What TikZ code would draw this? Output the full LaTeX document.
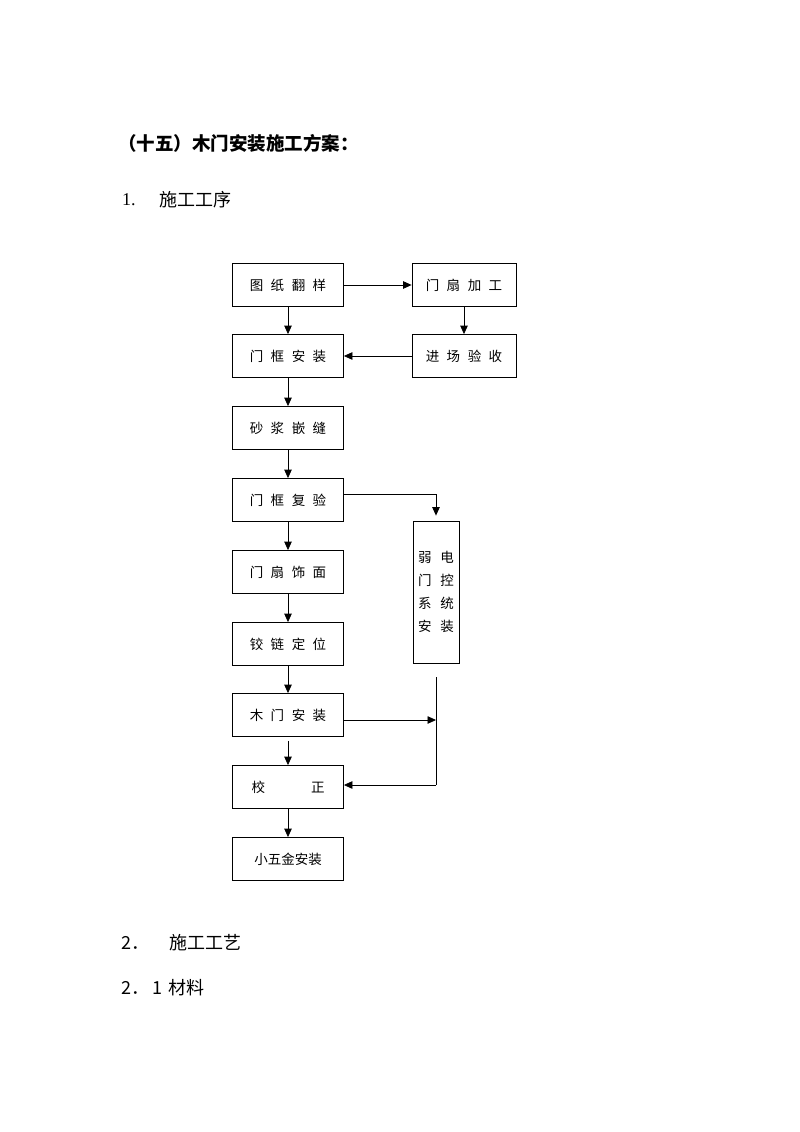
\documentclass[tikz,border=0pt]{standalone}
\usepackage{fontspec}
\newfontfamily\cjk{Noto Sans CJK SC}
\setmainfont{Liberation Serif}
\usetikzlibrary{arrows.meta}
\newcommand\gp{\hspace{7.5pt}}
\tikzset{
  stepbox/.style={draw, line width=0.8pt, minimum width=111pt, minimum height=43pt, inner sep=0pt, font=\cjk\fontsize{13.5}{16}\selectfont},
  conn/.style={line width=0.8pt, -{Triangle[length=8.5pt,width=7.5pt]}},
  plain/.style={line width=0.8pt},
}
\begin{document}
\begin{tikzpicture}[x=1pt,y=-1pt]
\useasboundingbox (0,0) rectangle (800,1132);
% headings
\node[anchor=west, inner sep=0, font=\cjk\bfseries\fontsize{18.5}{20}\selectfont] (title) at (118,143) {（十五）木门安装施工方案：};
\node[anchor=west, inner sep=0, font=\fontsize{18}{20}\selectfont] (h1n) at (122,200) {1.};
\node[anchor=west, inner sep=0, font=\cjk\fontsize{18}{20}\selectfont] (h1) at (159,200) {施工工序};
\node[anchor=west, inner sep=0, font=\cjk\fontsize{18}{20}\selectfont] (h2n) at (121,943) {2．};
\node[anchor=west, inner sep=0, font=\cjk\fontsize{18}{20}\selectfont] (h2) at (169,943) {施工工艺};
\node[anchor=west, inner sep=0, font=\cjk\fontsize{18}{20}\selectfont] (h3) at (121,988) {2．\hspace{3pt}1\hspace{6pt}材料};
% left column
\node[stepbox] (a1) at (288,285) {图\gp 纸\gp 翻\gp 样};
\node[stepbox] (a2) at (288,356) {门\gp 框\gp 安\gp 装};
\node[stepbox] (a3) at (288,428) {砂\gp 浆\gp 嵌\gp 缝};
\node[stepbox] (a4) at (288,500) {门\gp 框\gp 复\gp 验};
\node[stepbox] (a5) at (288,572) {门\gp 扇\gp 饰\gp 面};
\node[stepbox] (a6) at (288,644) {铰\gp 链\gp 定\gp 位};
\node[stepbox] (a7) at (288,715) {木\gp 门\gp 安\gp 装};
\node[stepbox] (a8) at (288,787) {校\hspace{46pt}正};
\node[stepbox] (a9) at (288,859) {小五金安装};
% right column
\node[stepbox, minimum width=104pt] (b1) at (464,285) {门\gp 扇\gp 加\gp 工};
\node[stepbox, minimum width=104pt] (b2) at (464,356) {进\gp 场\gp 验\gp 收};
\node[stepbox, minimum width=46pt, minimum height=142pt, align=center] (c1) at (436,592)
  {弱\hspace{9pt}电\\[7pt]门\hspace{9pt}控\\[7pt]系\hspace{9pt}统\\[7pt]安\hspace{9pt}装};
% connectors
\draw[conn] (a1) -- (b1);
\draw[conn] (b1) -- (b2);
\draw[conn] (b2) -- (a2);
\draw[conn] (a1) -- (a2);
\draw[conn] (a2) -- (a3);
\draw[conn] (a3) -- (a4);
\draw[conn] (a4) -- (a5);
\draw[conn] (a5) -- (a6);
\draw[conn] (a6) -- (a7);
\draw[conn] ([yshift=-4pt]a7.south) -- (a8);
\draw[conn] (a8) -- (a9);
\draw[conn] (a4.east |- 0,494) -| ([yshift=5pt]c1.north);
\coordinate (v1) at (436,677);
\coordinate (v2) at (436,785);
\coordinate (v3) at (436,720);
\draw[plain] (v1) -- (v2);
\draw[conn] (a7.east |- v3) -- (v3);
\draw[conn] (v2) -- (a8.east |- v2);
\end{tikzpicture}
\end{document}
